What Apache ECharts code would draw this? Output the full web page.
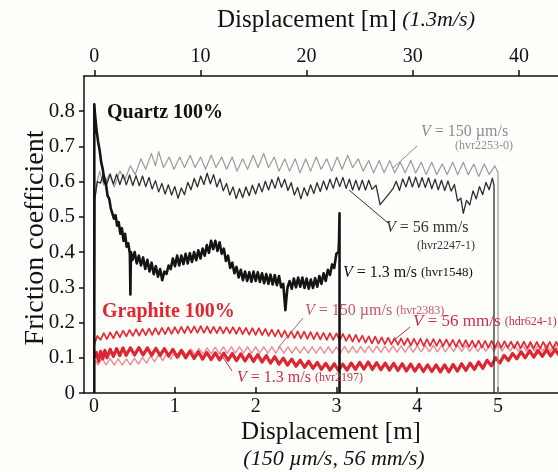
<!DOCTYPE html>
<html>
<head>
<meta charset="utf-8">
<script src="https://cdn.jsdelivr.net/npm/echarts@6/dist/echarts.min.js"></script>
<style>
html,body{margin:0;padding:0;background:#fefefa;}
#c{width:558px;height:472px;}
</style>
</head>
<body>
<div id="c"></div>
<script>
// Tick labels
const bottomTicks = [0, 1, 2, 3, 4, 5];
const topTicks = [0, 10, 20, 30, 40];
const yTicks = [0, 0.1, 0.2, 0.3, 0.4, 0.5, 0.6, 0.7, 0.8];

// Quartz 100%, V = 150 um/s (hvr2253-0)  [displacement m (bottom axis), friction]
const qz150 = [[0,0],[0.01,0.55],[0.04,0.6],[0.07,0.63],[0.12,0.59],[0.19,0.62],[0.25,0.585],[0.32,0.63],[0.38,0.605],[0.45,0.645],[0.51,0.62],[0.58,0.665],[0.64,0.635],[0.71,0.68],[0.76,0.645],[0.8,0.685],[0.86,0.64],[0.93,0.67],[0.99,0.635],[1.06,0.67],[1.12,0.64],[1.19,0.675],[1.25,0.64],[1.32,0.67],[1.38,0.635],[1.45,0.675],[1.51,0.64],[1.58,0.67],[1.64,0.635],[1.71,0.67],[1.77,0.63],[1.84,0.665],[1.9,0.635],[1.97,0.675],[2.03,0.64],[2.1,0.68],[2.16,0.64],[2.23,0.67],[2.29,0.63],[2.36,0.665],[2.42,0.63],[2.49,0.665],[2.55,0.625],[2.62,0.665],[2.68,0.63],[2.75,0.67],[2.81,0.635],[2.88,0.665],[2.94,0.63],[3.01,0.67],[3.07,0.635],[3.14,0.675],[3.2,0.64],[3.27,0.665],[3.33,0.63],[3.4,0.66],[3.46,0.625],[3.53,0.66],[3.59,0.625],[3.66,0.66],[3.72,0.625],[3.79,0.655],[3.85,0.625],[3.92,0.66],[3.98,0.625],[4.05,0.655],[4.11,0.62],[4.18,0.655],[4.24,0.62],[4.31,0.65],[4.37,0.62],[4.44,0.655],[4.5,0.62],[4.57,0.655],[4.63,0.62],[4.7,0.65],[4.76,0.615],[4.83,0.65],[4.89,0.62],[4.96,0.645],[5.0,0.625],[5.0,0]];

// Quartz 100%, V = 56 mm/s (hvr2247-1)  [bottom axis]
const qz56 = [[0,0],[0.01,0.55],[0.04,0.6],[0.08,0.596],[0.12,0.623],[0.16,0.594],[0.2,0.622],[0.24,0.593],[0.28,0.621],[0.32,0.592],[0.36,0.62],[0.4,0.591],[0.44,0.619],[0.48,0.589],[0.52,0.617],[0.56,0.588],[0.6,0.616],[0.64,0.586],[0.68,0.612],[0.72,0.579],[0.76,0.603],[0.8,0.571],[0.84,0.595],[0.88,0.565],[0.92,0.591],[0.96,0.562],[1.0,0.586],[1.04,0.553],[1.08,0.582],[1.12,0.563],[1.16,0.598],[1.2,0.577],[1.24,0.609],[1.28,0.585],[1.32,0.616],[1.36,0.592],[1.4,0.624],[1.44,0.594],[1.48,0.62],[1.52,0.585],[1.56,0.608],[1.6,0.574],[1.64,0.595],[1.68,0.562],[1.72,0.585],[1.76,0.552],[1.8,0.58],[1.84,0.555],[1.88,0.585],[1.92,0.56],[1.96,0.59],[2.0,0.565],[2.04,0.595],[2.08,0.571],[2.12,0.601],[2.16,0.576],[2.2,0.606],[2.24,0.581],[2.28,0.613],[2.32,0.584],[2.36,0.607],[2.4,0.575],[2.44,0.597],[2.48,0.562],[2.52,0.584],[2.56,0.551],[2.6,0.583],[2.64,0.56],[2.68,0.591],[2.72,0.566],[2.76,0.597],[2.8,0.572],[2.84,0.602],[2.88,0.577],[2.92,0.607],[2.96,0.581],[3.0,0.612],[3.04,0.586],[3.08,0.612],[3.12,0.581],[3.16,0.607],[3.2,0.576],[3.24,0.604],[3.28,0.576],[3.32,0.604],[3.36,0.576],[3.4,0.604],[3.44,0.578],[3.49,0.59],[3.54,0.535],[3.62,0.557],[3.7,0.58],[3.74,0.601],[3.78,0.575],[3.82,0.608],[3.86,0.585],[3.9,0.614],[3.94,0.585],[3.98,0.613],[4.02,0.584],[4.06,0.612],[4.1,0.583],[4.14,0.611],[4.18,0.58],[4.22,0.607],[4.26,0.577],[4.3,0.604],[4.34,0.575],[4.38,0.602],[4.42,0.573],[4.46,0.592],[4.5,0.545],[4.54,0.553],[4.57,0.51],[4.61,0.547],[4.65,0.534],[4.69,0.574],[4.73,0.551],[4.77,0.586],[4.81,0.563],[4.85,0.598],[4.89,0.577],[4.93,0.61],[4.95,0.59],[4.95,0]];

// Quartz 100%, V = 1.3 m/s (hvr1548)  [displacement m at 1.3 m/s (top axis)]
const qz13 = [[0,0],[0,0.82],[0.07,0.79],[0.2,0.75],[0.35,0.715],[0.5,0.69],[0.65,0.655],[0.8,0.635],[0.95,0.6],[1.1,0.592],[1.25,0.56],[1.4,0.552],[1.55,0.525],[1.7,0.525],[1.85,0.495],[2.0,0.505],[2.15,0.475],[2.3,0.485],[2.45,0.452],[2.6,0.468],[2.75,0.432],[2.9,0.452],[3.05,0.415],[3.2,0.425],[3.35,0.395],[3.4,0.28],[3.45,0.4],[3.6,0.378],[3.8,0.4],[4.0,0.368],[4.2,0.39],[4.4,0.362],[4.6,0.385],[4.8,0.352],[5.0,0.378],[5.2,0.345],[5.4,0.37],[5.6,0.337],[5.8,0.36],[6.0,0.33],[6.2,0.352],[6.4,0.32],[6.6,0.345],[6.8,0.338],[7.0,0.362],[7.2,0.352],[7.4,0.382],[7.6,0.36],[7.8,0.39],[8.0,0.362],[8.2,0.39],[8.4,0.366],[8.6,0.395],[8.8,0.368],[9.0,0.397],[9.2,0.372],[9.4,0.4],[9.6,0.377],[9.8,0.405],[10.0,0.382],[10.2,0.41],[10.4,0.39],[10.6,0.42],[10.8,0.398],[11.0,0.432],[11.2,0.408],[11.4,0.432],[11.6,0.403],[11.8,0.428],[12.0,0.395],[12.2,0.41],[12.4,0.375],[12.6,0.39],[12.8,0.355],[13.0,0.37],[13.2,0.34],[13.4,0.358],[13.6,0.328],[13.8,0.35],[14.0,0.32],[14.2,0.345],[14.4,0.318],[14.6,0.343],[14.8,0.316],[15.0,0.345],[15.2,0.318],[15.4,0.343],[15.6,0.315],[15.8,0.34],[16.0,0.312],[16.2,0.338],[16.4,0.31],[16.6,0.336],[16.8,0.308],[17.0,0.335],[17.2,0.306],[17.4,0.332],[17.6,0.3],[17.8,0.31],[18.0,0.235],[18.1,0.27],[18.2,0.3],[18.4,0.318],[18.6,0.296],[18.8,0.325],[19.0,0.3],[19.2,0.328],[19.4,0.302],[19.6,0.328],[19.8,0.298],[20.0,0.325],[20.2,0.296],[20.4,0.322],[20.6,0.298],[20.8,0.326],[21.0,0.302],[21.2,0.332],[21.4,0.31],[21.6,0.34],[21.8,0.318],[22.0,0.35],[22.2,0.335],[22.4,0.365],[22.6,0.355],[22.8,0.395],[23.0,0.4],[23.05,0.43],[23.1,0.51],[23.1,0]];

// Graphite 100%, V = 150 um/s (hvr2383)  [bottom axis]
const gr150 = [[0,0.095],[0.05,0.08],[0.1,0.098],[0.15,0.08],[0.2,0.098],[0.25,0.079],[0.3,0.097],[0.35,0.079],[0.4,0.097],[0.45,0.08],[0.5,0.099],[0.55,0.082],[0.6,0.101],[0.65,0.085],[0.7,0.105],[0.75,0.089],[0.8,0.109],[0.85,0.092],[0.9,0.112],[0.95,0.096],[1.0,0.116],[1.05,0.1],[1.1,0.12],[1.15,0.104],[1.2,0.125],[1.25,0.108],[1.3,0.127],[1.35,0.11],[1.4,0.128],[1.45,0.111],[1.5,0.13],[1.55,0.112],[1.6,0.131],[1.65,0.113],[1.7,0.131],[1.75,0.113],[1.8,0.131],[1.85,0.113],[1.9,0.131],[1.95,0.113],[2.0,0.131],[2.05,0.113],[2.1,0.131],[2.15,0.113],[2.2,0.131],[2.25,0.113],[2.3,0.131],[2.35,0.113],[2.4,0.131],[2.45,0.113],[2.5,0.131],[2.55,0.113],[2.6,0.131],[2.65,0.113],[2.7,0.131],[2.75,0.113],[2.8,0.131],[2.85,0.113],[2.9,0.131],[2.95,0.113],[3.0,0.131],[3.05,0.113],[3.1,0.132],[3.15,0.114],[3.2,0.132],[3.25,0.114],[3.3,0.132],[3.35,0.115],[3.4,0.133],[3.45,0.115],[3.5,0.133],[3.55,0.115],[3.6,0.133],[3.65,0.116],[3.7,0.134],[3.75,0.116],[3.8,0.134],[3.85,0.116],[3.9,0.134],[3.95,0.116],[4.0,0.134],[4.05,0.117],[4.1,0.135],[4.15,0.117],[4.2,0.135],[4.25,0.117],[4.3,0.135],[4.35,0.117],[4.4,0.135],[4.45,0.118],[4.5,0.136],[4.55,0.118],[4.6,0.136],[4.65,0.118],[4.7,0.136],[4.75,0.118],[4.8,0.136],[4.85,0.119],[4.9,0.137],[4.95,0.119],[5.0,0.137],[5.05,0.119],[5.1,0.137],[5.15,0.119],[5.2,0.137],[5.25,0.119],[5.3,0.137],[5.35,0.119],[5.4,0.137],[5.45,0.119],[5.5,0.137],[5.55,0.119],[5.6,0.137],[5.65,0.119],[5.7,0.137],[5.75,0.119]];

// Graphite 100%, V = 56 mm/s (hdr624-1)  [bottom axis]
const gr56 = [[0,0.135],[0.04,0.162],[0.08,0.151],[0.12,0.17],[0.16,0.153],[0.2,0.172],[0.24,0.155],[0.28,0.175],[0.32,0.158],[0.36,0.177],[0.4,0.161],[0.44,0.179],[0.48,0.162],[0.52,0.181],[0.56,0.163],[0.6,0.182],[0.64,0.164],[0.68,0.183],[0.72,0.165],[0.76,0.184],[0.8,0.166],[0.84,0.185],[0.88,0.167],[0.92,0.186],[0.96,0.168],[1.0,0.187],[1.04,0.169],[1.08,0.188],[1.12,0.17],[1.16,0.189],[1.2,0.171],[1.24,0.189],[1.28,0.171],[1.32,0.19],[1.36,0.171],[1.4,0.189],[1.44,0.17],[1.48,0.188],[1.52,0.17],[1.56,0.188],[1.6,0.169],[1.64,0.187],[1.68,0.169],[1.72,0.187],[1.76,0.168],[1.8,0.186],[1.84,0.167],[1.88,0.185],[1.92,0.166],[1.96,0.184],[2.0,0.165],[2.04,0.184],[2.08,0.164],[2.12,0.182],[2.16,0.162],[2.2,0.18],[2.24,0.161],[2.28,0.179],[2.32,0.159],[2.36,0.177],[2.4,0.157],[2.44,0.175],[2.48,0.156],[2.52,0.175],[2.56,0.155],[2.6,0.174],[2.64,0.154],[2.68,0.173],[2.72,0.153],[2.76,0.172],[2.8,0.152],[2.84,0.171],[2.88,0.151],[2.92,0.17],[2.96,0.151],[3.0,0.169],[3.04,0.149],[3.08,0.168],[3.12,0.148],[3.16,0.166],[3.2,0.146],[3.24,0.165],[3.28,0.145],[3.32,0.163],[3.36,0.143],[3.4,0.161],[3.44,0.141],[3.48,0.16],[3.52,0.14],[3.56,0.158],[3.6,0.139],[3.64,0.157],[3.68,0.138],[3.72,0.156],[3.76,0.137],[3.8,0.155],[3.84,0.136],[3.88,0.155],[3.92,0.135],[3.96,0.154],[4.0,0.135],[4.04,0.154],[4.08,0.134],[4.12,0.153],[4.16,0.134],[4.2,0.153],[4.24,0.134],[4.28,0.152],[4.32,0.133],[4.36,0.152],[4.4,0.133],[4.44,0.151],[4.48,0.132],[4.52,0.151],[4.56,0.131],[4.6,0.15],[4.64,0.131],[4.68,0.149],[4.72,0.13],[4.76,0.149],[4.8,0.129],[4.84,0.148],[4.88,0.129],[4.92,0.148],[4.96,0.128],[5.0,0.147],[5.04,0.128],[5.08,0.147],[5.12,0.128],[5.16,0.146],[5.2,0.127],[5.24,0.146],[5.28,0.127],[5.32,0.146],[5.36,0.127],[5.4,0.145],[5.44,0.126],[5.48,0.145],[5.52,0.126],[5.56,0.145],[5.6,0.126],[5.64,0.145],[5.68,0.126],[5.72,0.145],[5.76,0.126]];

// Graphite 100%, V = 1.3 m/s (hvr2197)  [top axis]
const gr13 = [[0,0.1],[0.2,0.115],[0.4,0.09],[0.6,0.118],[0.8,0.097],[1.0,0.121],[1.2,0.1],[1.5,0.124],[1.8,0.104],[2.1,0.126],[2.4,0.106],[2.7,0.128],[3.0,0.107],[3.4,0.128],[3.8,0.108],[4.2,0.129],[4.6,0.108],[5.0,0.128],[5.4,0.107],[5.8,0.127],[6.2,0.107],[6.6,0.126],[7.0,0.105],[7.4,0.124],[7.8,0.102],[8.2,0.121],[8.6,0.1],[9.0,0.119],[9.4,0.098],[9.8,0.117],[10.2,0.096],[10.6,0.115],[11.0,0.095],[11.4,0.114],[11.8,0.094],[12.2,0.113],[12.6,0.093],[13.0,0.112],[13.4,0.092],[13.8,0.111],[14.2,0.091],[14.6,0.11],[15.0,0.09],[15.4,0.109],[15.8,0.088],[16.2,0.106],[16.6,0.085],[17.0,0.103],[17.4,0.082],[17.8,0.099],[18.2,0.079],[18.6,0.096],[19.0,0.076],[19.4,0.093],[19.8,0.073],[20.2,0.09],[20.6,0.07],[21.0,0.087],[21.4,0.067],[21.8,0.084],[22.2,0.065],[22.6,0.083],[23.0,0.064],[23.4,0.082],[23.8,0.065],[24.2,0.085],[24.6,0.067],[25.0,0.087],[25.4,0.068],[25.8,0.088],[26.2,0.067],[26.6,0.086],[27.0,0.066],[27.4,0.085],[27.8,0.065],[28.2,0.084],[28.6,0.064],[29.0,0.083],[29.4,0.063],[29.8,0.082],[30.2,0.062],[30.6,0.081],[31.0,0.061],[31.4,0.08],[31.8,0.061],[32.2,0.08],[32.6,0.06],[33.0,0.08],[33.4,0.06],[33.8,0.081],[34.2,0.062],[34.6,0.083],[35.0,0.064],[35.4,0.085],[35.8,0.067],[36.2,0.088],[36.6,0.07],[37.0,0.093],[37.4,0.077],[37.8,0.1],[38.2,0.085],[38.6,0.107],[39.0,0.092],[39.4,0.112],[39.8,0.097],[40.2,0.117],[40.6,0.1],[41.0,0.12],[41.4,0.102],[41.8,0.121],[42.2,0.104],[42.6,0.123],[43.0,0.105],[43.4,0.124],[43.8,0.106]];

const SERIF = '"Liberation Serif", "DejaVu Serif", serif';
const chart = echarts.init(document.getElementById('c'), null, {renderer: 'canvas'});

function lineSeries(name, data, axis, color, width) {
  return {
    name: name, type: 'line', data: data, xAxisIndex: axis, yAxisIndex: 0,
    showSymbol: false, symbol: 'none', smooth: false, silent: true,
    lineStyle: {color: color, width: width, join: 'round'}, itemStyle: {color: color},
    clip: true
  };
}

function txt(x, y, text, opts) {
  return {
    type: 'text', x: x, y: y, rotation: opts.rotation || 0, z: 100,
    style: Object.assign({
      text: text, fill: opts.color || '#111',
      fontSize: opts.size || 16, fontFamily: SERIF,
      fontWeight: opts.weight || 'normal', fontStyle: opts.style || 'normal',
      align: opts.align || 'left', verticalAlign: 'middle',
      textAlign: opts.align || 'left', textVerticalAlign: 'middle'
    }, opts.rich ? {rich: opts.rich} : {})
  };
}
function seg(x1, y1, x2, y2, color) {
  return {type: 'line', z: 100, shape: {x1: x1, y1: y1, x2: x2, y2: y2},
          style: {stroke: color, lineWidth: 1}};
}

const axisText = {fontFamily: SERIF, color: '#111'};
const axisLineStyle = {color: '#111', width: 1.5};

const option = {
  backgroundColor: '#fefefa',
  animation: false,
  grid: {left: 84, top: 76, right: 0, bottom: 79, containLabel: false, outerBoundsMode: 'none'},
  xAxis: [
    {
      type: 'value', position: 'bottom', min: -0.124, max: 5.742,
      axisLine: {show: true, onZero: false, lineStyle: axisLineStyle},
      axisTick: {show: true, inside: true, length: 6, customValues: bottomTicks, lineStyle: axisLineStyle},
      axisLabel: Object.assign({customValues: bottomTicks, fontSize: 20, margin: 4}, axisText),
      splitLine: {show: false}
    },
    {
      type: 'value', position: 'top', min: -0.97, max: 43.68,
      axisLine: {show: true, onZero: false, lineStyle: axisLineStyle},
      axisTick: {show: true, inside: false, length: 6, customValues: topTicks, lineStyle: axisLineStyle},
      axisLabel: Object.assign({customValues: topTicks, fontSize: 20, margin: 9}, axisText),
      splitLine: {show: false}
    }
  ],
  yAxis: [{
    type: 'value', min: 0, max: 0.9,
    axisLine: {show: true, onZero: false, lineStyle: axisLineStyle},
    axisTick: {show: true, inside: false, length: 5, customValues: yTicks, lineStyle: axisLineStyle},
    axisLabel: Object.assign({customValues: yTicks, fontSize: 21, margin: 9}, axisText),
    splitLine: {show: false}
  }],
  series: [
    lineSeries('hvr2383', gr150, 0, '#ec8b97', 1.4),
    lineSeries('hdr624-1', gr56, 0, '#e42a36', 1.7),
    lineSeries('hvr2197', gr13, 1, '#dc2634', 3.2),
    lineSeries('hvr2253-0', qz150, 0, '#9a9a9a', 1.2),
    lineSeries('hvr2247-1', qz56, 0, '#2e2e2e', 1.3),
    lineSeries('hvr1548', qz13, 1, '#141414', 2.6)
  ],
  graphic: [
    // axis titles
    txt(346, 20, '{a|Displacement [m]}{b| (1.3m/s)}', {size: 25, align: 'center',
        rich: {a: {fontSize: 25, fontFamily: SERIF, fill: '#111'}, b: {fontSize: 22, fontStyle: 'italic', fontFamily: SERIF, fill: '#111'}}}),
    txt(331, 432, 'Displacement [m]', {size: 25, align: 'center'}),
    txt(334, 459, '(150 \u00b5m/s, 56 mm/s)', {size: 22, align: 'center', style: 'italic'}),
    txt(36, 238, 'Friction coefficient', {size: 28, align: 'center', rotation: Math.PI / 2}),
    // group labels
    txt(107, 113, 'Quartz 100%', {size: 20, weight: 'bold'}),
    txt(102, 312, 'Graphite 100%', {size: 20, weight: 'bold', color: '#e3262e'}),
    // quartz annotations
    txt(421, 132, '{i|V} = 150 \u00b5m/s', {size: 16, color: '#8c8c8c',
        rich: {i: {fontStyle: 'italic', fontSize: 16, fontFamily: SERIF, fill: '#8c8c8c'}}}),
    txt(455, 146, '(hvr2253-0)', {size: 12, color: '#8c8c8c'}),
    seg(417, 146, 393, 168, '#8c8c8c'),
    txt(386, 228, '{i|V} = 56 mm/s', {size: 16, color: '#333',
        rich: {i: {fontStyle: 'italic', fontSize: 16, fontFamily: SERIF, fill: '#333'}}}),
    txt(417, 246, '(hvr2247-1)', {size: 12, color: '#333'}),
    seg(388, 223, 349, 190, '#333'),
    txt(343, 273, '{i|V} = 1.3 m/s {s|(hvr1548)}', {size: 16, color: '#111',
        rich: {i: {fontStyle: 'italic', fontSize: 16, fontFamily: SERIF, fill: '#111'},
               s: {fontSize: 13, fontFamily: SERIF, fill: '#111'}}}),
    // graphite annotations
    txt(305, 311, '{i|V} = 150 \u00b5m/s {s|(hvr2383)}', {size: 16, color: '#c8566c',
        rich: {i: {fontStyle: 'italic', fontSize: 16, fontFamily: SERIF, fill: '#c8566c'},
               s: {fontSize: 12, fontFamily: SERIF, fill: '#c8566c'}}}),
    seg(303, 318, 278, 348, '#c8566c'),
    txt(413, 322, '{i|V} = 56 mm/s {s|(hdr624-1)}', {size: 17, color: '#cf2c48',
        rich: {i: {fontStyle: 'italic', fontSize: 17, fontFamily: SERIF, fill: '#cf2c48'},
               s: {fontSize: 12, fontFamily: SERIF, fill: '#cf2c48'}}}),
    seg(410, 327, 393, 341, '#cf2c48'),
    txt(237, 378, '{i|V} = 1.3 m/s {s|(hvr2197)}', {size: 16, color: '#cf2c48',
        rich: {i: {fontStyle: 'italic', fontSize: 16, fontFamily: SERIF, fill: '#cf2c48'},
               s: {fontSize: 12, fontFamily: SERIF, fill: '#cf2c48'}}}),
    seg(220, 353, 232, 371, '#cf2c48')
  ]
};
chart.setOption(option);
</script>
</body>
</html>
